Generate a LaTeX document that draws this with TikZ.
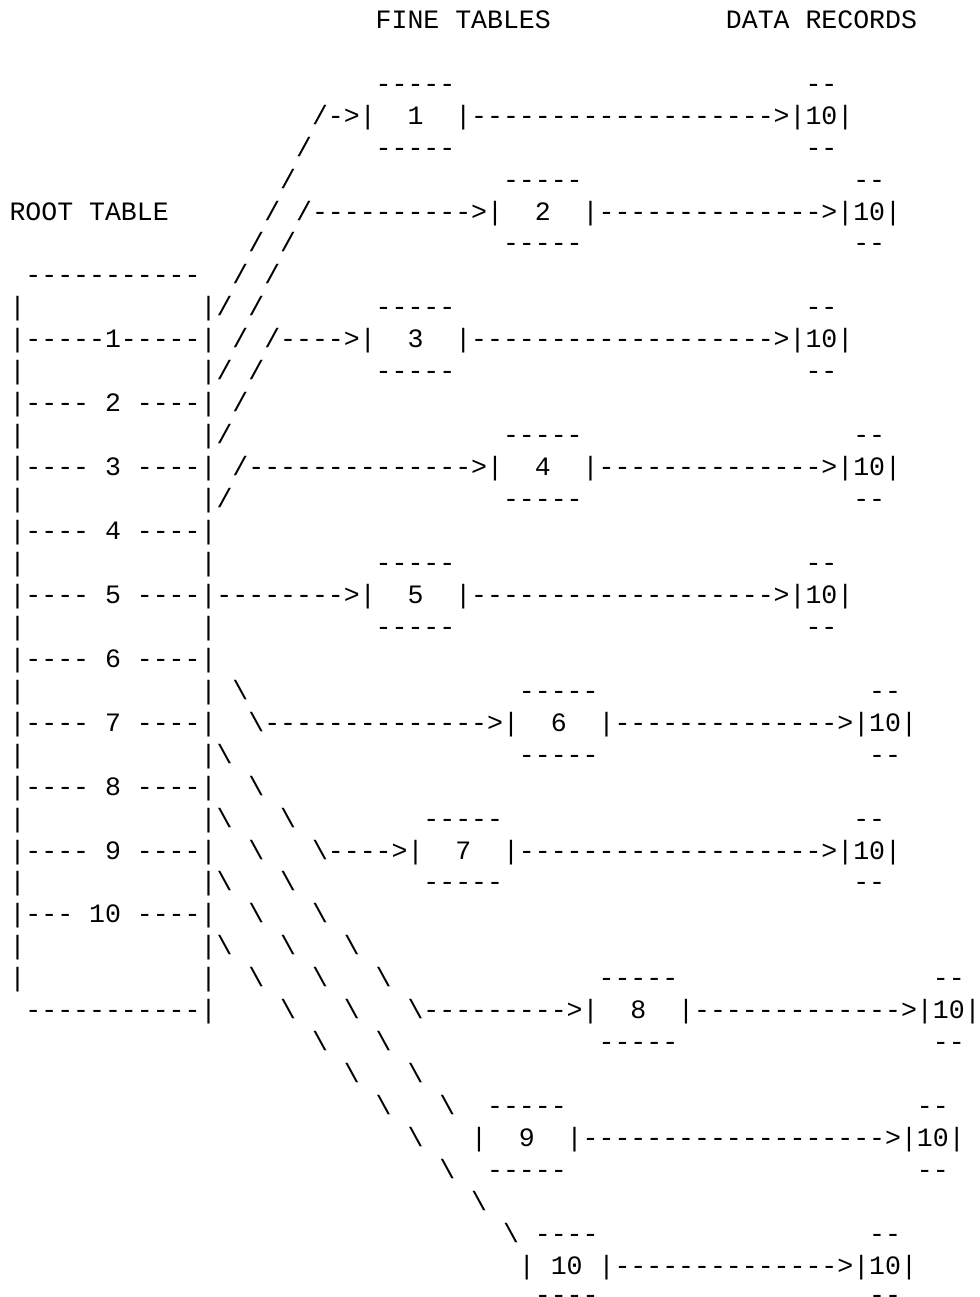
\documentclass[tikz,border=0pt]{standalone}
\usepackage{fontspec}
\setmonofont{Liberation Mono}
\tikzset{
  txt/.style={anchor=base west, inner sep=0pt, outer sep=0pt, text=black,
    font=\ttfamily\fontsize{19.9pt}{24pt}\selectfont},
}
\newcommand\Seg[3]{\node[txt] (r#1c#2) at ({9.54+15.92*#2},{28.3+31.95*#1}) {#3};}
\newcommand\SegAt[4]{\node[txt] (r#1c#2) at ({9.54+15.92*#2},#3) {#4};}
\newcommand\bsl{\textbackslash}
\newcommand\Dsh[1]{\foreach \k in {1,...,#1}{-}}
\begin{document}
\begin{tikzpicture}[x=0.75pt,y=-0.75pt]
\fill[white] (0,0) rectangle (980,1297);
\useasboundingbox (0,0) rectangle (980,1297);
\clip (0,0) rectangle (980,1297);
\Seg{0}{23}{FINE TABLES}
\Seg{0}{45}{DATA RECORDS}
\Seg{2}{23}{-----}
\Seg{2}{50}{--}
\Seg{3}{19}{/->|}
\Seg{3}{25}{1}
\Seg{3}{28}{|\Dsh{19}>|10|}
\Seg{4}{18}{/}
\Seg{4}{23}{-----}
\Seg{4}{50}{--}
\Seg{5}{17}{/}
\Seg{5}{31}{-----}
\Seg{5}{53}{--}
\Seg{6}{0}{ROOT TABLE}
\Seg{6}{16}{/}
\Seg{6}{18}{/\Dsh{10}>|}
\Seg{6}{33}{2}
\Seg{6}{36}{|\Dsh{14}>|10|}
\Seg{7}{15}{/}
\Seg{7}{17}{/}
\Seg{7}{31}{-----}
\Seg{7}{53}{--}
\Seg{8}{1}{\Dsh{11}}
\Seg{8}{14}{/}
\Seg{8}{16}{/}
\Seg{9}{0}{|}
\Seg{9}{12}{|/}
\Seg{9}{15}{/}
\Seg{9}{23}{-----}
\Seg{9}{50}{--}
\Seg{10}{0}{|\Dsh{5}1\Dsh{5}|}
\Seg{10}{14}{/}
\Seg{10}{16}{/\Dsh{4}>|}
\Seg{10}{25}{3}
\Seg{10}{28}{|\Dsh{19}>|10|}
\Seg{11}{0}{|}
\Seg{11}{12}{|/}
\Seg{11}{15}{/}
\Seg{11}{23}{-----}
\Seg{11}{50}{--}
\Seg{12}{0}{|---- 2 ----|}
\Seg{12}{14}{/}
\Seg{13}{0}{|}
\Seg{13}{12}{|/}
\Seg{13}{31}{-----}
\Seg{13}{53}{--}
\Seg{14}{0}{|---- 3 ----|}
\Seg{14}{14}{/\Dsh{14}>|}
\Seg{14}{33}{4}
\Seg{14}{36}{|\Dsh{14}>|10|}
\Seg{15}{0}{|}
\Seg{15}{12}{|/}
\Seg{15}{31}{-----}
\Seg{15}{53}{--}
\Seg{16}{0}{|---- 4 ----|}
\Seg{17}{0}{|}
\Seg{17}{12}{|}
\Seg{17}{23}{-----}
\Seg{17}{50}{--}
\Seg{18}{0}{|---- 5 ----|\Dsh{8}>|}
\Seg{18}{25}{5}
\Seg{18}{28}{|\Dsh{19}>|10|}
\Seg{19}{0}{|}
\Seg{19}{12}{|}
\Seg{19}{23}{-----}
\Seg{19}{50}{--}
\Seg{20}{0}{|---- 6 ----|}
\Seg{21}{0}{|}
\Seg{21}{12}{|}
\Seg{21}{14}{\bsl}
\Seg{21}{32}{-----}
\Seg{21}{54}{--}
\Seg{22}{0}{|---- 7 ----|}
\Seg{22}{15}{\bsl\Dsh{14}>|}
\Seg{22}{34}{6}
\Seg{22}{37}{|\Dsh{14}>|10|}
\Seg{23}{0}{|}
\Seg{23}{12}{|\bsl}
\Seg{23}{32}{-----}
\Seg{23}{54}{--}
\Seg{24}{0}{|---- 8 ----|}
\Seg{24}{15}{\bsl}
\Seg{25}{0}{|}
\Seg{25}{12}{|\bsl}
\Seg{25}{17}{\bsl}
\Seg{25}{26}{-----}
\Seg{25}{53}{--}
\Seg{26}{0}{|---- 9 ----|}
\Seg{26}{15}{\bsl}
\Seg{26}{19}{\bsl\Dsh{4}>|}
\Seg{26}{28}{7}
\Seg{26}{31}{|\Dsh{19}>|10|}
\Seg{27}{0}{|}
\Seg{27}{12}{|\bsl}
\Seg{27}{17}{\bsl}
\Seg{27}{26}{-----}
\Seg{27}{53}{--}
\Seg{28}{0}{|--- 10 ----|}
\Seg{28}{15}{\bsl}
\Seg{28}{19}{\bsl}
\Seg{29}{0}{|}
\Seg{29}{12}{|\bsl}
\Seg{29}{17}{\bsl}
\Seg{29}{21}{\bsl}
\Seg{30}{0}{|}
\Seg{30}{12}{|}
\Seg{30}{15}{\bsl}
\Seg{30}{19}{\bsl}
\Seg{30}{23}{\bsl}
\Seg{30}{37}{-----}
\Seg{30}{58}{--}
\Seg{31}{1}{\Dsh{11}|}
\Seg{31}{17}{\bsl}
\Seg{31}{21}{\bsl}
\Seg{31}{25}{\bsl\Dsh{9}>|}
\Seg{31}{39}{8}
\Seg{31}{42}{|\Dsh{13}>|10|}
\Seg{32}{19}{\bsl}
\Seg{32}{23}{\bsl}
\Seg{32}{37}{-----}
\Seg{32}{58}{--}
\Seg{33}{21}{\bsl}
\Seg{33}{25}{\bsl}
\Seg{34}{23}{\bsl}
\Seg{34}{27}{\bsl}
\Seg{34}{30}{-----}
\Seg{34}{57}{--}
\Seg{35}{25}{\bsl}
\Seg{35}{29}{|}
\Seg{35}{32}{9}
\Seg{35}{35}{|\Dsh{19}>|10|}
\Seg{36}{27}{\bsl}
\Seg{36}{30}{-----}
\Seg{36}{57}{--}
\Seg{37}{29}{\bsl}
\Seg{38}{31}{\bsl}
\Seg{38}{33}{----}
\Seg{38}{54}{--}
\Seg{39}{32}{|}
\Seg{39}{34}{10}
\Seg{39}{37}{|\Dsh{14}>|10|}
\SegAt{40}{33}{1303}{----}
\SegAt{40}{54}{1303}{--}
\end{tikzpicture}
\end{document}
